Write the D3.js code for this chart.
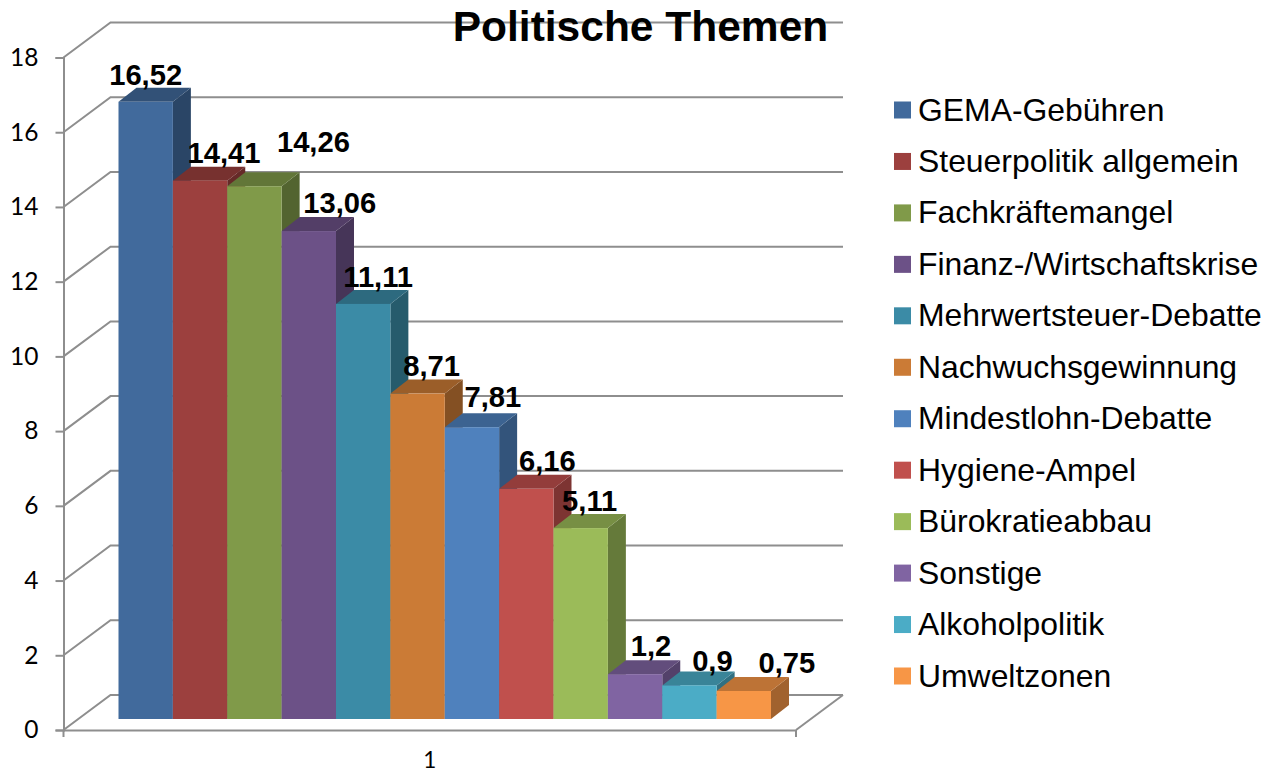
<!DOCTYPE html>
<html>
<head>
<meta charset="utf-8">
<script src="https://d3js.org/d3.v7.min.js"></script>
<style>
  html, body { margin: 0; padding: 0; background: #fff; }
  svg { display: block; }
</style>
</head>
<body>
<div class="chart"></div>
<script>
// DATA
// ----------------------------
const categories = ['1']
const seriesNames = ['GEMA-Gebühren', 'Steuerpolitik allgemein', 'Fachkräftemangel',
  'Finanz-/Wirtschaftskrise', 'Mehrwertsteuer-Debatte', 'Nachwuchsgewinnung',
  'Mindestlohn-Debatte', 'Hygiene-Ampel', 'Bürokratieabbau', 'Sonstige',
  'Alkoholpolitik', 'Umweltzonen']
const seriesValues = [16.52, 14.41, 14.26, 13.06, 11.11, 8.71, 7.81, 6.16, 5.11, 1.2, 0.9, 0.75]
const valueLabels = ['16,52', '14,41', '14,26', '13,06', '11,11', '8,71', '7,81', '6,16', '5,11', '1,2', '0,9', '0,75']
const yTicks = [0, 2, 4, 6, 8, 10, 12, 14, 16, 18]
const colors = ['#416a9c', '#9c403e', '#809a49', '#6c5187', '#3b8ba6', '#cb7b36',
  '#4f81bd', '#c0504d', '#9bbb59', '#8064a2', '#4bacc6', '#f79646']

// hand placed data labels, same as in the original (offset from bar top centre)
const labelNudgeX = [0, 24, 59, 31, 15, 14, 21, 21, 9, 16, 23, 43]
const labelNudgeY = [-27, -28, -44, -28, -27, -28, -30, -28, -27, -28, -25, -28]

// SETUP
// ----------------------------
const width = 1268
const height = 773
const axisColor = '#8e8e8e'
const sans = '"Liberation Sans", Arial, sans-serif'

const svg = d3.select('.chart')
  .append('svg')
    .attr('width', width)
    .attr('height', height)
    .attr('viewBox', `0 0 ${width} ${height}`)

// fake 3d: the floor goes back by wallDx / wallDy, bars sit inside of it
const wallDx = 47
const wallDy = -35
const barShiftDy = -11
const barDx = 18
const barDy = -14

// SCALES and AXES
// ----------------------------
const yScale = d3.scaleLinear().domain([0, 18]).range([730, 57.5])
const xScale = d3.scaleBand().domain(categories).range([63.5, 796])
const barScale = d3.scaleBand().domain(seriesNames).range([118.5, 771])

// walls and gridlines go first, everything else on top
const grid = svg.append('g')
grid.selectAll('.grid')
  .data(yTicks)
  .enter()
  .append('path')
    .attr('class', 'grid')
    .attr('fill', 'none')
    .attr('stroke', axisColor)
    .attr('stroke-width', 2)
    .attr('d', d => {
      const y = yScale(d)
      return `M${xScale.range()[0]},${y}l${wallDx},${wallDy}L${xScale.range()[1] + wallDx},${y + wallDy}`
    })

// right edge of the floor
grid.append('path')
  .attr('fill', 'none')
  .attr('stroke', axisColor)
  .attr('stroke-width', 2)
  .attr('d', `M${xScale.range()[1]},${yScale(0)}l${wallDx},${wallDy}`)

const yAxis = d3.axisLeft(yScale).tickValues(yTicks).tickSize(8).tickPadding(17)
svg.append('g')
    .attr('transform', 'translate(63.5, 0)')
    .call(yAxis)
    .call(styleAxis)
    .selectAll('text')
      .attr('font-family', 'Lato, Carlito, sans-serif')
      .attr('font-size', 24.5)

// category axis has ticks at the band edges, not in the middle
const xAxis = d3.axisBottom(xScale).tickSize(0).tickPadding(22)
const xAxisG = svg.append('g')
    .attr('transform', `translate(0, ${yScale(0)})`)
    .call(xAxis)
    .call(styleAxis)
xAxisG.selectAll('text')
  .attr('font-family', 'Lato, Carlito, sans-serif')
  .attr('font-size', 22.5)
xAxisG.selectAll('.edge')
  .data(xScale.range())
  .enter()
  .append('line')
    .attr('class', 'edge')
    .attr('x1', d => d)
    .attr('x2', d => d)
    .attr('y1', 0)
    .attr('y2', 7)
    .attr('stroke', axisColor)
    .attr('stroke-width', 2)

// BARS
// ----------------------------
const bars = seriesNames.map((name, i) => ({
  name, value: seriesValues[i], color: colors[i], label: valueLabels[i], i
}))
const y0 = yScale(0) + barShiftDy
const bw = barScale.bandwidth()
const barTop = d => yScale(d.value) + barShiftDy

const barG = svg.selectAll('.bar')
  .data(bars)
  .enter()
  .append('g')
    .attr('class', 'bar')
    .attr('transform', d => `translate(${barScale(d.name)}, 0)`)

// right side
barG.append('path')
  .attr('fill', d => d3.rgb(d.color).darker(1.2))
  .attr('d', d => `M${bw},${y0}l${barDx},${barDy}V${barTop(d) + barDy}l${-barDx},${-barDy}Z`)

// top
barG.append('path')
  .attr('fill', d => d3.rgb(d.color).darker(0.75))
  .attr('d', d => `M0,${barTop(d)}l${barDx},${barDy}h${bw}l${-barDx},${-barDy}Z`)

// front
barG.append('rect')
  .attr('y', d => barTop(d))
  .attr('width', bw)
  .attr('height', d => y0 - barTop(d))
  .attr('fill', d => d.color)

// DATA LABELS
// ----------------------------
svg.selectAll('.value')
  .data(bars)
  .enter()
  .append('text')
    .attr('class', 'value')
    .attr('x', d => barScale(d.name) + bw / 2 + labelNudgeX[d.i])
    .attr('y', d => barTop(d) + labelNudgeY[d.i])
    .attr('dy', '0.35em')
    .attr('text-anchor', 'middle')
    .attr('font-family', sans)
    .attr('font-weight', 'bold')
    .attr('font-size', 29.2)
    .text(d => d.label)

// TITLE
// ----------------------------
svg.append('text')
  .attr('x', 640.5)
  .attr('y', 41)
  .attr('text-anchor', 'middle')
  .attr('font-family', sans)
  .attr('font-weight', 'bold')
  .attr('font-size', 42.5)
  .text('Politische Themen')

// LEGEND
// ----------------------------
const legendY = d3.scalePoint().domain(seriesNames).range([110, 676])
const legend = svg.selectAll('.legend')
  .data(bars)
  .enter()
  .append('g')
    .attr('class', 'legend')
    .attr('transform', d => `translate(894, ${legendY(d.name)})`)

legend.append('rect')
  .attr('y', -8.5)
  .attr('width', 17)
  .attr('height', 17)
  .attr('fill', d => d.color)

legend.append('text')
  .attr('x', 24)
  .attr('dy', '0.33em')
  .attr('font-family', sans)
  .attr('font-size', 31.9)
  .text(d => d.name)

function styleAxis (g) {
  g.selectAll('.domain, .tick line')
    .attr('stroke', axisColor)
    .attr('stroke-width', 2)
  g.selectAll('text').attr('fill', '#000')
}
</script>
</body>
</html>
